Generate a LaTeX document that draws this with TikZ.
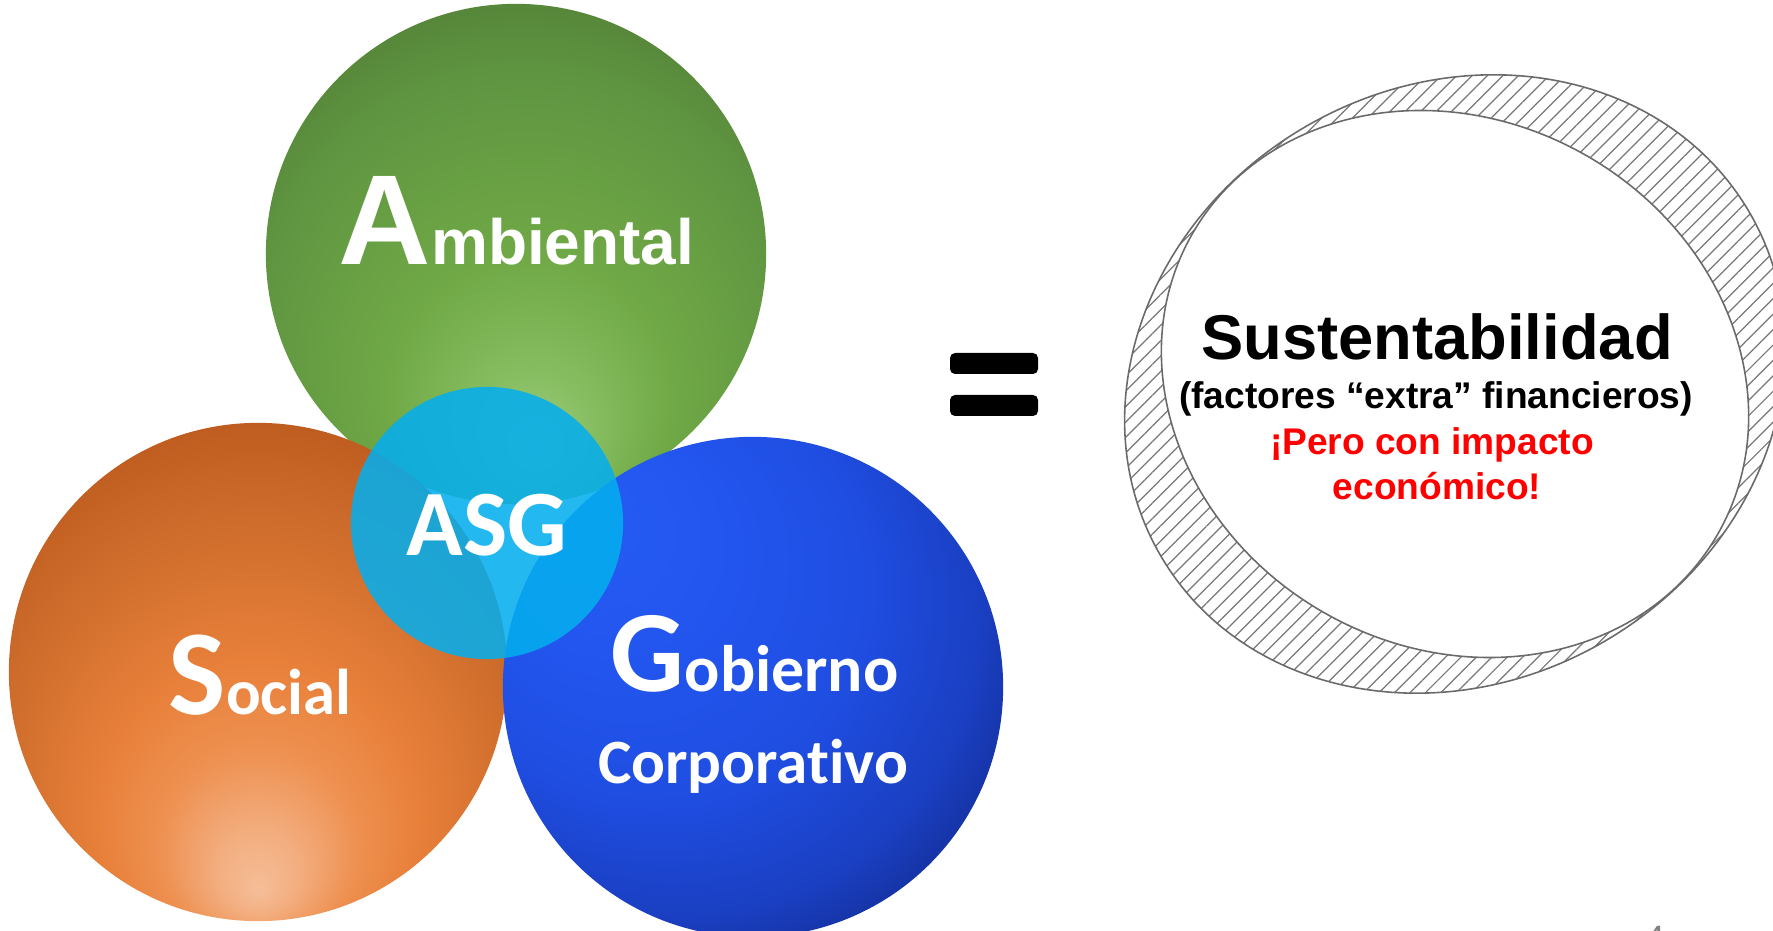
\documentclass[tikz,border=0pt]{standalone}
\usepackage{fontspec}
\setmainfont{Liberation Sans}
\newfontfamily\calfont[Ligatures=NoCommon]{Carlito}
\usetikzlibrary{patterns.meta}
\definecolor{gA}{HTML}{9FCD80}
\definecolor{gB}{HTML}{86BD60}
\definecolor{gC}{HTML}{70A946}
\definecolor{gD}{HTML}{5F9541}
\definecolor{gE}{HTML}{57873A}
\definecolor{oA}{HTML}{F5BE98}
\definecolor{oB}{HTML}{F3AE80}
\definecolor{oC}{HTML}{EE9050}
\definecolor{oD}{HTML}{E8803A}
\definecolor{oE}{HTML}{CB6A2A}
\definecolor{oF}{HTML}{BE5C1F}
\definecolor{bA}{HTML}{265CF4}
\definecolor{bB}{HTML}{2255EE}
\definecolor{bC}{HTML}{1F4DE0}
\definecolor{bD}{HTML}{1A3FC2}
\definecolor{bE}{HTML}{1532A2}
\definecolor{asgblue}{HTML}{04AEEE}
\definecolor{ringgray}{HTML}{6A6A6A}
\definecolor{hatchgray}{HTML}{777777}
\pgfdeclareradialshading{greensh}{\pgfpoint{2bp}{-20bp}}{color(0bp)=(gA); color(6bp)=(gB); color(14bp)=(gC); color(27bp)=(gD); color(32bp)=(gE); color(50bp)=(gE)}
\pgfdeclareradialshading{orangesh}{\pgfpoint{0bp}{-22bp}}{color(0bp)=(oA); color(4bp)=(oB); color(10bp)=(oC); color(16bp)=(oD); color(27bp)=(oE); color(33bp)=(oF); color(50bp)=(oF)}
\pgfdeclareradialshading{bluesh}{\pgfpoint{-18bp}{18bp}}{color(0bp)=(bA); color(12bp)=(bB); color(22bp)=(bC); color(30bp)=(bD); color(34bp)=(bE); color(50bp)=(bE)}
\tikzset{
  bigdisc/.style={circle, inner sep=0pt, minimum size=5cm, draw=none},
  lbl/.style={inner sep=0pt, text=white},
  rtxt/.style={inner sep=0pt, anchor=base, font=\bfseries},
  ringline/.style={draw=ringgray, line width=0.45pt},
  eqbar/.style={fill=black, rounded corners=0.05cm},
}
\begin{document}
\begin{tikzpicture}[x=0.01cm, y=-0.01cm]
\useasboundingbox (0,0) rectangle (1773,931);
\clip (0,0) rectangle (1773,931);
\fill[white] (0,0) rectangle (1773,931);
% ring
\fill[pattern={Lines[angle=45, distance=3.1pt, line width=0.35pt]}, pattern color=hatchgray,
  rotate around={30.3:(1455,384)}]
  (1455,384) ellipse [x radius=340.8, y radius=297.6];
\draw[ringline, rotate around={30.3:(1455,384)}]
  (1455,384) ellipse [x radius=340.8, y radius=297.6];
\filldraw[fill=white, ringline, rotate around={150.5:(1455,384)}]
  (1455,384) ellipse [x radius=302.6, y radius=263.5];
% circles
\node[bigdisc, shading=greensh] (amb) at (516,254) {};
\node[bigdisc, shading=orangesh, minimum size=4.98cm] (soc) at (258,672) {};
\node[bigdisc, shading=bluesh] (gob) at (753,687) {};
\node[circle, inner sep=0pt, minimum size=2.72cm, fill=asgblue, fill opacity=0.87] (asg) at (487,523) {};
% labels
\node[lbl, anchor=base west] (ambT) at (338,265)
  {\bfseries\fontsize{36.4}{40}\selectfont A\fontsize{18.2}{20}\selectfont mbiental};
\node[lbl, anchor=base west] (socT) at (168,714)
  {\calfont\bfseries\fontsize{34.5}{38}\selectfont S\fontsize{18.4}{20}\selectfont ocial};
\node[lbl, anchor=base west] (gobT) at (610,691)
  {\calfont\bfseries\fontsize{33}{36}\selectfont G\fontsize{18.7}{20}\selectfont obierno};
\node[lbl, anchor=base] (corT) at (753,783)
  {\calfont\bfseries\fontsize{17.95}{20}\selectfont Corporativo};
\node[lbl, anchor=base] (asgT) at (487,556)
  {\calfont\bfseries\fontsize{26.6}{30}\selectfont ASG};
% equals
\fill[eqbar] (950,353) rectangle (1038,374);
\fill[eqbar] (950,395) rectangle (1038,416);
% right texts
\node[rtxt] (sus) at (1437,360) {\fontsize{18}{20}\selectfont Sustentabilidad};
\node[rtxt] (fac) at (1436,409) {\fontsize{10.56}{12}\selectfont (factores “extra” financieros)};
\node[rtxt, text=red] (pero) at (1432,455) {\fontsize{10.56}{12}\selectfont ¡Pero con impacto};
\node[rtxt, text=red] (eco) at (1437,500) {\fontsize{10.56}{12}\selectfont económico!};
% page number (cut)
\node[inner sep=0pt, anchor=north, text=gray] (pnum) at (1655,926) {\fontsize{10}{12}\selectfont 4};
\end{tikzpicture}
\end{document}
